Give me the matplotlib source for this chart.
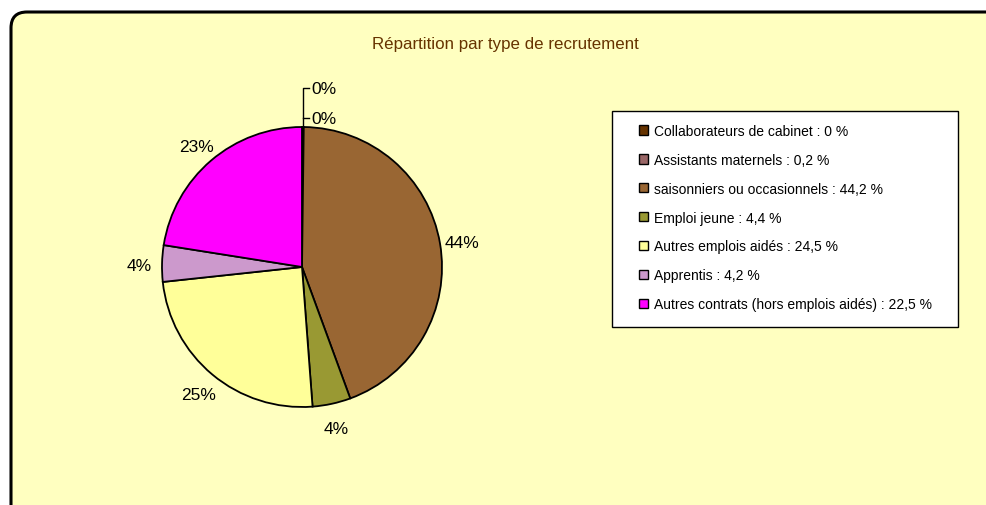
import matplotlib
matplotlib.use("Agg")
import matplotlib.pyplot as plt
from matplotlib.patches import FancyBboxPatch, Patch, Rectangle
import numpy as np

plt.rcParams['font.family'] = ['Liberation Sans', 'DejaVu Sans']

# données
categories = ["Collaborateurs de cabinet", "Assistants maternels",
              "saisonniers ou occasionnels", "Emploi jeune",
              "Autres emplois aidés", "Apprentis",
              "Autres contrats (hors emplois aidés)"]
valeurs = [0.0, 0.2, 44.2, 4.4, 24.5, 4.2, 22.5]
legende_txt = ["0 %", "0,2 %", "44,2 %", "4,4 %", "24,5 %", "4,2 %", "22,5 %"]
couleurs = ["#663300", "#996666", "#996633", "#999933", "#FFFF99", "#CC99CC", "#FF00FF"]

W, H = 986, 506
fig = plt.figure(figsize=(W / 100, H / 100), dpi=100)
fig.patch.set_facecolor("white")
ax = fig.add_axes([0, 0, 1, 1])

# camembert
cx, cy, R = 302, H - 268, 140
wedges, _ = ax.pie(valeurs, colors=couleurs, startangle=90, counterclock=False,
                   center=(cx, cy), radius=R, frame=True,
                   wedgeprops=dict(edgecolor="black", linewidth=1.3))
ax.set_xlim(0, W)
ax.set_ylim(0, H)
ax.set_aspect("equal")
ax.axis("off")

# fond arrondi
fond = FancyBboxPatch((11, -40), W + 40, H - 13 + 40,
                      boxstyle="round,pad=0,rounding_size=16",
                      facecolor="#FFFFC0", edgecolor="black", linewidth=2.2, zorder=0)
ax.add_patch(fond)

ax.text(505, H - 44, "Répartition par type de recrutement", ha="center", va="center",
        fontsize=12.2, color="#663300")

total = sum(valeurs)
cum = 0
for v in valeurs:
    mid = 90 - (cum + v / 2) / total * 360
    cum += v
    if v < 1:
        continue
    a = np.deg2rad(mid)
    ax.text(cx + 1.16 * R * np.cos(a), cy + 1.16 * R * np.sin(a) - 3,
            "%d%%" % int(v + 0.5), ha="center", va="center", fontsize=12.5)

# étiquettes des petites parts (lignes de rappel)
top = cy + R
ax.plot([cx + 1, cx + 1, cx + 7], [top, top + 39, top + 39], color="black", lw=1)
ax.plot([cx + 1, cx + 7], [top + 9, top + 9], color="black", lw=1)
ax.text(cx + 9, top + 9, "0%", ha="left", va="center", fontsize=12.5)
ax.text(cx + 9, top + 39, "0%", ha="left", va="center", fontsize=12.5)

# légende
cadre = Rectangle((612, H - 328), 346, 216, facecolor="white", edgecolor="black",
                  linewidth=1, zorder=2)
ax.add_patch(cadre)
handles = [Patch(facecolor=c, edgecolor="black", linewidth=1) for c in couleurs]
labels = ["%s : %s" % (c, t) for c, t in zip(categories, legende_txt)]
leg = ax.legend(handles, labels, loc="upper left",
                bbox_to_anchor=(639 / W, 1 - 125 / H), bbox_transform=fig.transFigure,
                fontsize=10, frameon=False, borderpad=0,
                labelspacing=1.07, handlelength=0.65, handleheight=0.65,
                handletextpad=0.4, borderaxespad=0)
leg.set_zorder(3)

fig.savefig("out.png", dpi=100)
